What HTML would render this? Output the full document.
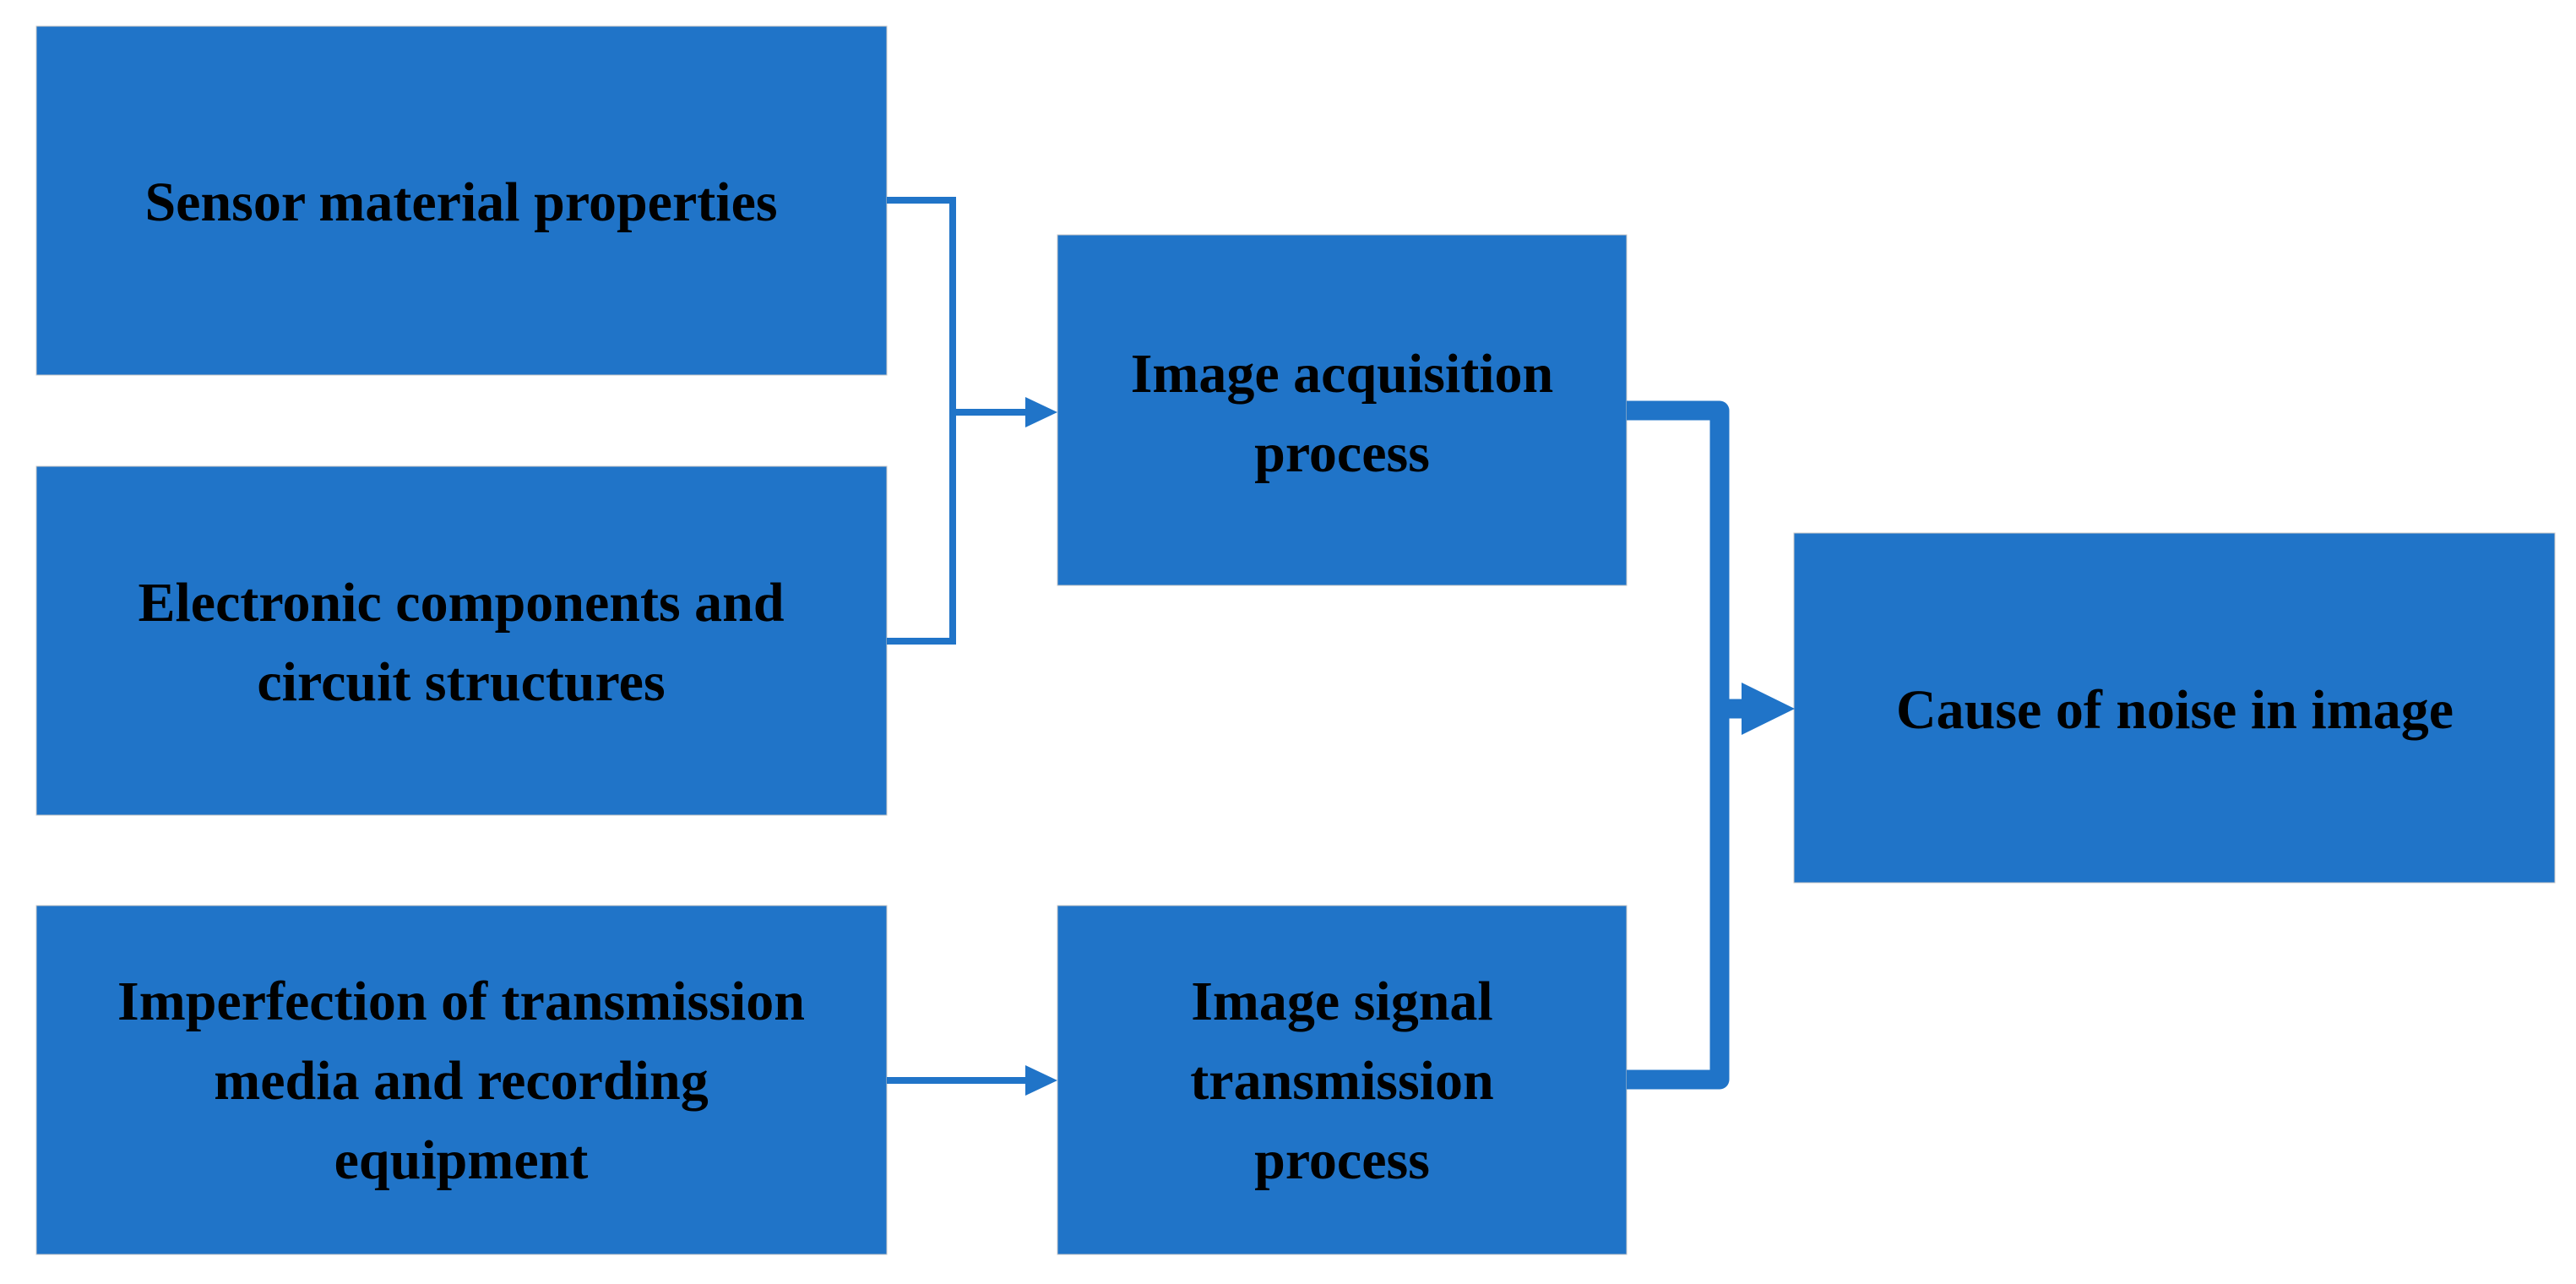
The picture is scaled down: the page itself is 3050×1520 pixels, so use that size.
<!DOCTYPE html>
<html><head><meta charset="utf-8"><style>
html,body{margin:0;padding:0;background:#fff;}
svg{display:block;}
text{font-family:"Liberation Serif",serif;font-weight:bold;font-size:66px;fill:#000;text-anchor:middle;}
</style></head><body>
<svg width="3050" height="1520" viewBox="0 0 3050 1520" xmlns="http://www.w3.org/2000/svg">
<g fill="#2074C8" stroke="#c8c8c8" stroke-width="1">
<rect x="43" y="31" width="1007" height="413"/>
<rect x="43" y="552" width="1007" height="413"/>
<rect x="43" y="1072" width="1007" height="413"/>
<rect x="1252" y="278" width="674" height="415"/>
<rect x="1252" y="1072" width="674" height="413"/>
<rect x="2124" y="631" width="901" height="414"/>
</g>
<g fill="none" stroke="#2074C8" stroke-width="8">
<polyline points="1050,237 1128,237 1128,759 1050,759"/>
<line x1="1128" y1="488" x2="1220" y2="488"/>
<line x1="1050" y1="1279" x2="1220" y2="1279"/>
</g>
<g fill="#2074C8">
<polygon points="1214,470 1252,488 1214,506"/>
<polygon points="1214,1261 1252,1279 1214,1297"/>
</g>
<g fill="none" stroke="#2074C8" stroke-width="23" stroke-linejoin="round">
<polyline points="1926,486 2036,486 2036,1278 1926,1278"/>
<line x1="2036" y1="839" x2="2066" y2="839"/>
</g>
<polygon fill="#2074C8" points="2062,808 2125,839 2062,870"/>
<text x="546" y="261">Sensor material properties</text>
<text x="546" y="735">Electronic components and</text>
<text x="546" y="829">circuit structures</text>
<text x="546" y="1207">Imperfection of transmission</text>
<text x="546" y="1301">media and recording</text>
<text x="546" y="1395">equipment</text>
<text x="1589" y="464">Image acquisition</text>
<text x="1589" y="558">process</text>
<text x="1589" y="1207">Image signal</text>
<text x="1589" y="1301">transmission</text>
<text x="1589" y="1395">process</text>
<text x="2575" y="862">Cause of noise in image</text>
</svg>
</body></html>
